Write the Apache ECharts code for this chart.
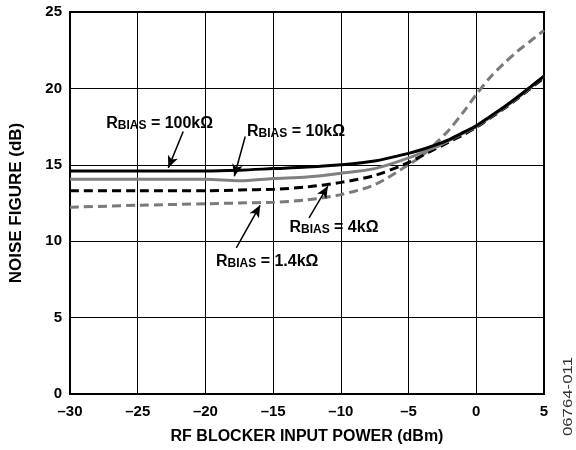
<!DOCTYPE html>
<html><head><meta charset="utf-8">
<script src="https://cdn.jsdelivr.net/npm/echarts@6/dist/echarts.min.js"></script>
<style>html,body{margin:0;padding:0;background:#fff}#c{width:576px;height:450px}</style>
</head><body><div id="c"></div>
<script>
const xPower = [-30, -25, -20, -17.5, -15, -12.5, -10, -7.5, -5, -4, -3, -2, -1, 0, 1, 2, 3, 4, 5];
const nf100k = [14.6, 14.6, 14.6, 14.65, 14.75, 14.85, 15.0, 15.25, 15.75, 16.0, 16.3, 16.65, 17.1, 17.55, 18.15, 18.75, 19.4, 20.1, 20.8];
const nf10k  = [14.05, 14.05, 14.05, 13.95, 14.1, 14.2, 14.45, 14.75, 15.45, 15.8, 16.15, 16.6, 17.05, 17.5, 18.1, 18.7, 19.35, 20.05, 20.8];
const nf4k   = [13.3, 13.3, 13.3, 13.35, 13.4, 13.55, 13.85, 14.3, 15.15, 15.6, 16.05, 16.5, 16.95, 17.45, 18.05, 18.65, 19.3, 20.0, 20.7];
const nf1k4  = [12.22, 12.35, 12.45, 12.5, 12.55, 12.7, 13.05, 13.7, 15.0, 15.6, 16.4, 17.3, 18.4, 19.6, 20.7, 21.6, 22.4, 23.1, 23.8];
const xTicks = [-30, -25, -20, -15, -10, -5, 0, 5];
const yTicks = [0, 5, 10, 15, 20, 25];
const labels = ['100kΩ', '10kΩ', '4kΩ', '1.4kΩ'];
// annotation positions in data units: [textX, textY], arrows [from, to]
const annText = [[-23.38, 17.68], [-13.31, 17.16], [-10.51, 10.87], [-15.44, 8.64]];
const annArrow = [[[-21.64, 17.18], [-22.74, 14.8]], [[-17.06, 16.85], [-17.87, 14.25]], [[-12.35, 11.53], [-10.96, 13.6]], [[-17.72, 9.56], [-15.96, 12.35]]];

const FONT = '"Liberation Sans", Arial, sans-serif';
const chart = echarts.init(document.getElementById('c'), null, {renderer: 'canvas'});
const fmt = v => String(v).replace('-', '\u2013');
const pair = arr => xPower.map((x, i) => [x, arr[i]]);
const rich = {
  r: {fontFamily: FONT, fontWeight: 'bold', fontSize: 16, color: '#000', verticalAlign: 'bottom'},
  s: {fontFamily: FONT, fontWeight: 'bold', fontSize: 12, color: '#000', padding: [0, 0, 0, 0], verticalAlign: 'bottom', lineHeight: 12}
};
const annSeries = {
  type: 'line', data: [], silent: true,
  markLine: {
    silent: true, symbol: ['none', 'arrow'], symbolSize: [8, 12],
    lineStyle: {color: '#000', width: 1.5, type: 'solid'},
    label: {show: false},
    data: annArrow.map(a => [{coord: a[0]}, {coord: a[1]}])
  },
  markPoint: {
    silent: true, symbol: 'circle', symbolSize: 0,
    data: annText.map((t, i) => ({coord: t, label: {show: true, position: 'inside', formatter: '{r|R}{s|BIAS}{r| = ' + labels[i] + '}', rich: rich}}))
  }
};
const mk = (arr, color, dashed) => ({
  type: 'line', data: pair(arr), smooth: 0.3, symbol: 'none',
  lineStyle: {color: color, width: 3, type: dashed ? [9, 5] : 'solid'}
});
chart.setOption({
  animation: false,
  grid: {left: 68, right: 32, top: 12, bottom: 56, show: true, borderColor: '#000', borderWidth: 2, backgroundColor: 'transparent'},
  xAxis: {
    type: 'value', min: -30, max: 5, interval: 5,
    name: 'RF BLOCKER INPUT POWER (dBm)', nameLocation: 'middle', nameGap: 35,
    nameTextStyle: {fontFamily: FONT, fontWeight: 'bold', fontSize: 16, color: '#000'},
    axisLine: {show: false}, axisTick: {show: false},
    axisLabel: {formatter: v => xTicks.includes(v) ? fmt(v) : '', fontFamily: FONT, fontWeight: 'bold', fontSize: 15, color: '#000', margin: 10},
    splitLine: {show: true, lineStyle: {color: '#000', width: 1}}
  },
  yAxis: {
    type: 'value', min: 0, max: 25, interval: 5,
    name: 'NOISE FIGURE (dB)', nameLocation: 'middle', nameGap: 45, nameRotate: 90,
    nameTextStyle: {fontFamily: FONT, fontWeight: 'bold', fontSize: 17, color: '#000'},
    axisLine: {show: false}, axisTick: {show: false},
    axisLabel: {formatter: v => yTicks.includes(v) ? String(v) : '', fontFamily: FONT, fontWeight: 'bold', fontSize: 15, color: '#000', margin: 8},
    splitLine: {show: true, lineStyle: {color: '#000', width: 1}}
  },
  graphic: [{
    type: 'text', left: 563, top: 357, rotation: Math.PI / 2, scaleX: 1.4,
    style: {text: '06764-011', fontFamily: FONT, fontSize: 12, fill: '#333'}
  }],
  series: [
    mk(nf1k4, '#7a7a7a', true),
    mk(nf4k, '#000', true),
    mk(nf10k, '#808080', false),
    mk(nf100k, '#000', false),
    annSeries
  ]
});
</script></body></html>
